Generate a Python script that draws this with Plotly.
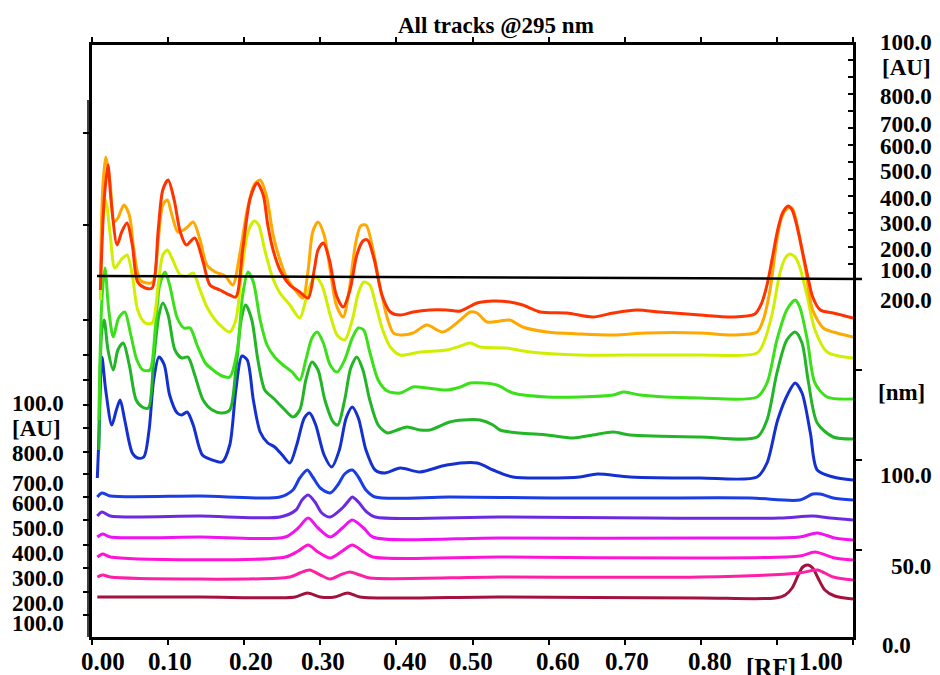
import plotly.graph_objects as go

# ---------------- data (Rf vs. absorbance, tracks stacked) ----------------
red_rf = [0.011,0.016,0.021,0.025,0.033,0.039,0.046,0.053,0.060,0.070,0.079,0.087,0.093,0.100,0.108,0.116,0.124,0.135,0.146,0.155,0.168,0.181,0.189,0.198,0.208,0.217,0.225,0.231,0.238,0.247,0.260,0.273,0.284,0.292,0.297,0.304,0.312,0.321,0.330,0.339,0.348,0.356,0.362,0.371,0.381,0.392,0.405,0.422,0.444,0.466,0.484,0.506,0.527,0.549,0.566,0.589,0.624,0.658,0.685,0.716,0.746,0.799,0.842,0.871,0.880,0.887,0.894,0.901,0.908,0.915,0.920,0.926,0.934,0.941,0.947,0.957,0.974,1.000]
red_au = [347,437,472,437,392,405,414,392,355,349,349,407,447,457,437,405,392,399,375,352,347,342,340,387,439,454,442,412,387,367,352,345,339,367,387,394,377,342,330,347,382,396,397,377,342,325,322,325,327,327,326,334,336,335,332,325,324,320,324,327,325,322,320,323,334,352,379,407,425,431,427,412,384,359,340,327,324,319]

orange_rf = [0.011,0.014,0.018,0.024,0.029,0.034,0.042,0.049,0.055,0.063,0.072,0.080,0.087,0.093,0.099,0.105,0.113,0.124,0.133,0.142,0.151,0.162,0.175,0.185,0.194,0.204,0.213,0.221,0.229,0.238,0.247,0.256,0.267,0.277,0.284,0.290,0.297,0.305,0.313,0.321,0.330,0.338,0.346,0.353,0.360,0.368,0.378,0.388,0.396,0.405,0.422,0.440,0.461,0.484,0.497,0.506,0.519,0.536,0.549,0.566,0.598,0.641,0.685,0.729,0.799,0.842,0.874,0.882,0.891,0.900,0.906,0.913,0.920,0.926,0.937,0.947,0.961,0.974,1.000]
orange_au = [352,447,480,452,415,419,432,422,387,357,354,355,397,432,437,422,405,409,415,397,372,365,361,352,382,427,452,457,442,402,377,359,347,339,367,405,415,402,367,332,320,347,392,411,412,392,352,319,304,302,304,312,305,317,325,324,315,316,317,310,305,303,302,304,304,302,305,317,347,397,419,428,429,414,370,327,309,305,300]

yellow_rf = [0.011,0.014,0.018,0.024,0.030,0.038,0.046,0.053,0.060,0.070,0.079,0.087,0.093,0.099,0.105,0.116,0.125,0.133,0.142,0.151,0.162,0.171,0.181,0.189,0.197,0.205,0.213,0.219,0.227,0.237,0.247,0.260,0.273,0.281,0.288,0.294,0.302,0.313,0.322,0.332,0.342,0.350,0.357,0.365,0.373,0.382,0.392,0.405,0.431,0.466,0.484,0.497,0.510,0.545,0.576,0.641,0.729,0.799,0.874,0.884,0.894,0.904,0.911,0.917,0.924,0.930,0.940,0.950,0.966,1.000]
yellow_au = [337,417,437,402,369,377,382,362,327,314,314,352,382,387,379,362,361,364,347,330,317,310,305,317,367,405,416,412,387,360,344,332,319,337,354,360,352,322,302,297,317,344,355,352,332,307,290,282,285,287,291,294,290,289,285,282,282,282,284,297,324,364,379,383,380,370,340,307,285,279]

green1_rf = [0.009,0.013,0.017,0.022,0.028,0.035,0.043,0.051,0.059,0.067,0.076,0.083,0.089,0.096,0.102,0.112,0.121,0.129,0.138,0.149,0.159,0.171,0.181,0.191,0.198,0.205,0.212,0.221,0.230,0.240,0.251,0.263,0.273,0.281,0.289,0.296,0.304,0.313,0.322,0.332,0.342,0.350,0.357,0.365,0.376,0.388,0.405,0.422,0.440,0.466,0.484,0.497,0.532,0.553,0.598,0.641,0.685,0.698,0.720,0.799,0.874,0.887,0.900,0.913,0.924,0.930,0.940,0.950,0.966,1.000]
green1_au = [217,337,369,327,300,319,325,302,277,267,267,307,352,365,352,319,309,309,292,274,267,261,260,287,342,365,355,317,292,280,272,265,257,277,299,305,294,272,265,277,299,309,307,285,257,246,244,250,249,247,250,254,252,244,240,240,242,245,242,239,240,254,297,327,337,330,297,254,240,238]

green2_rf = [0.009,0.013,0.016,0.021,0.028,0.034,0.041,0.049,0.058,0.066,0.074,0.081,0.088,0.093,0.100,0.109,0.118,0.126,0.135,0.146,0.158,0.171,0.181,0.189,0.196,0.202,0.210,0.218,0.227,0.238,0.251,0.264,0.273,0.281,0.289,0.297,0.306,0.317,0.323,0.332,0.340,0.348,0.356,0.365,0.376,0.388,0.401,0.414,0.431,0.444,0.470,0.488,0.510,0.527,0.536,0.562,0.598,0.632,0.658,0.685,0.707,0.799,0.874,0.887,0.900,0.913,0.924,0.933,0.941,0.953,0.974,1.000]
green2_au = [187,307,317,287,267,287,294,272,237,230,229,277,322,334,322,287,279,280,262,237,227,224,227,267,317,332,317,277,247,239,229,220,227,257,275,267,237,215,212,237,269,280,267,237,212,204,207,210,207,207,215,217,217,212,207,204,202,199,202,205,202,200,200,217,264,297,305,294,257,214,200,198]

blue1_rf = [0.007,0.009,0.013,0.018,0.026,0.032,0.037,0.043,0.053,0.060,0.068,0.075,0.081,0.088,0.095,0.102,0.112,0.118,0.125,0.133,0.145,0.158,0.171,0.181,0.189,0.197,0.204,0.212,0.221,0.231,0.240,0.250,0.260,0.269,0.279,0.286,0.294,0.305,0.315,0.325,0.334,0.342,0.350,0.360,0.372,0.385,0.405,0.431,0.466,0.506,0.527,0.553,0.598,0.641,0.664,0.707,0.799,0.874,0.887,0.901,0.915,0.924,0.933,0.944,0.953,0.974,1.000]
blue1_au = [159,197,280,247,212,227,237,217,184,179,180,207,257,280,272,242,224,222,225,212,182,177,175,192,247,281,277,237,205,194,190,182,174,192,219,224,212,182,170,187,219,230,219,187,167,164,169,165,172,174,167,160,159,160,163,160,159,160,174,217,244,254,244,204,167,160,157]

blue2_rf = [0.007,0.013,0.024,0.142,0.247,0.264,0.273,0.283,0.290,0.300,0.313,0.323,0.332,0.342,0.350,0.360,0.372,0.470,0.602,0.733,0.865,0.930,0.947,0.957,0.974,1.000]
blue2_au = [140,144,141,141,140,147,159,167,160,149,144,152,163,167,160,147,140,140,139,139,139,137,143,143,139,137]

violet_rf = [0.007,0.013,0.024,0.142,0.247,0.268,0.276,0.284,0.293,0.302,0.313,0.329,0.338,0.342,0.350,0.361,0.372,0.536,0.733,0.904,0.947,0.970,1.000]
violet_au = [121,125,121,121,120,127,137,142,135,124,120,129,137,140,135,125,120,120,119,119,121,119,117]

magenta1_rf = [0.007,0.014,0.024,0.142,0.254,0.271,0.284,0.297,0.313,0.329,0.342,0.357,0.369,0.536,0.799,0.930,0.953,0.976,1.000]
magenta1_au = [100,103,100,100,100,109,119,109,100,109,117,109,100,99,99,100,104,99,97]

magenta2_rf = [0.007,0.014,0.024,0.254,0.271,0.284,0.297,0.313,0.329,0.342,0.357,0.369,0.536,0.799,0.930,0.950,0.976,1.000]
magenta2_au = [80,83,80,80,86,92,85,79,86,92,85,80,80,79,81,85,79,77]

pink_rf = [0.007,0.014,0.024,0.260,0.273,0.286,0.300,0.313,0.329,0.339,0.352,0.365,0.536,0.799,0.930,0.953,0.974,1.000]
pink_au = [60,62,60,60,64,67,62,58,63,65,62,59,60,60,64,67,60,57]

darkred_rf = [0.007,0.142,0.267,0.283,0.300,0.319,0.336,0.352,0.536,0.799,0.898,0.911,0.920,0.928,0.934,0.941,0.947,0.954,0.963,0.976,1.000]
darkred_au = [40,40,40,44,40,40,44,40,40,39,39,42,49,62,70,72,69,59,47,41,38]

rf_ticks = [0.0,0.1,0.2,0.3,0.4,0.5,0.6,0.7,0.8,0.9,1.0]
bottom_labels = ["0.00","0.10","0.20","0.30","0.40","0.50","0.60","0.70","0.80","[RF]","1.00"]
left_labels = ["100.0","[AU]","800.0","700.0","600.0","500.0","400.0","300.0","200.0","100.0"]
right_labels = ["100.0","[AU]","800.0","700.0","600.0","500.0","400.0","300.0","200.0","100.0","200.0","[nm]","100.0","50.0","0.0"]
title_text = "All tracks @295 nm"

# ---------------- figure ----------------
W, H = 940, 675
L, R, T, B = 92, 87, 45, 38
PW, PH = W - L - R, H - T - B


def paper(px, py):
    return (px - L) / PW, (H - B - py) / PH


tracks = [
    (darkred_rf, darkred_au, "#a3123f"),
    (pink_rf, pink_au, "#ff1fa6"),
    (magenta2_rf, magenta2_au, "#ff14d6"),
    (magenta1_rf, magenta1_au, "#f012f0"),
    (violet_rf, violet_au, "#6b2ae0"),
    (blue2_rf, blue2_au, "#1a3de6"),
    (blue1_rf, blue1_au, "#1530d0"),
    (green2_rf, green2_au, "#22b525"),
    (green1_rf, green1_au, "#3ce01a"),
    (yellow_rf, yellow_au, "#d2ee00"),
    (orange_rf, orange_au, "#ffa800"),
    (red_rf, red_au, "#ff3300"),
]

fig = go.Figure()
for xs, ys, col in tracks:
    fig.add_trace(go.Scatter(x=xs, y=ys, mode="lines",
                             line=dict(color=col, width=3, shape="spline", smoothing=0.8),
                             hoverinfo="skip", showlegend=False))

# helper traces so the extra right-side tick axes are drawn
fig.add_trace(go.Scatter(x=[0.5], y=[0], yaxis="y2", mode="markers",
                         marker=dict(opacity=0), hoverinfo="skip", showlegend=False))
fig.add_trace(go.Scatter(x=[0.5], y=[0], yaxis="y3", mode="markers",
                         marker=dict(opacity=0), hoverinfo="skip", showlegend=False))

left_tick_px = [615, 592, 568, 545, 520, 497, 474, 452, 428, 405, 380, 355, 320, 225, 133]
right_top_tick_px = [60, 77, 94, 111, 128, 145, 162, 179, 196, 213, 230, 247, 264]
right_bot_tick_px = [370, 460, 550]

fig.update_layout(
    width=W, height=H,
    margin=dict(l=L, r=R, t=T, b=B, pad=0),
    plot_bgcolor="white", paper_bgcolor="white",
    showlegend=False,
    xaxis=dict(range=[0, 1], showline=True, linecolor="black", linewidth=2.5,
               mirror="ticks", ticks="outside", tickvals=rf_ticks, ticklen=5,
               tickwidth=2, tickcolor="black", showticklabels=False,
               showgrid=False, zeroline=False),
    yaxis=dict(range=[0, PH], showline=True, linecolor="black", linewidth=3,
               mirror=True, ticks="outside", tickvals=[H - B - p for p in left_tick_px],
               ticklen=6, tickwidth=2, tickcolor="black", showticklabels=False,
               showgrid=False, zeroline=False),
    yaxis2=dict(range=[0, PH], overlaying="y", side="right", showline=False,
                ticks="inside", tickvals=[H - B - p for p in right_top_tick_px],
                ticklen=5, tickwidth=2, tickcolor="black", showticklabels=False,
                showgrid=False, zeroline=False),
    yaxis3=dict(range=[0, PH], overlaying="y", side="right", showline=False,
                ticks="outside", tickvals=[H - B - p for p in right_bot_tick_px],
                ticklen=8, tickwidth=2, tickcolor="black", showticklabels=False,
                showgrid=False, zeroline=False),
)

# horizontal reference line crossing the upper tracks
x0, y0 = paper(97, 276)
x1, y1 = paper(862, 279)
fig.add_shape(type="line", xref="paper", yref="paper", x0=x0, y0=y0, x1=x1, y1=y1,
              line=dict(color="black", width=2.5), layer="above")
# thin double stroke at the left border
a0, b0 = paper(88, 100)
a1, b1 = paper(88, 637)
fig.add_shape(type="line", xref="paper", yref="paper", x0=a0, y0=b0, x1=a1, y1=b1,
              line=dict(color="black", width=1.5), layer="above")

FONT = "Liberation Serif, Times New Roman, serif"


def label(text, px, py, anchor="left", size=23):
    xp, yp = paper(px, py)
    fig.add_annotation(text="<b>" + text + "</b>", x=xp, y=yp, xref="paper", yref="paper",
                       xanchor=anchor, yanchor="middle", showarrow=False,
                       font=dict(family=FONT, size=size, color="black"))


label(title_text, 496, 26, anchor="center", size=23)

bottom_px = [103, 170, 251, 323, 405, 471, 558, 627, 710, 771, 821]
for t, px in zip(bottom_labels, bottom_px):
    label(t, px, 667 if t == "[RF]" else 661, anchor="center", size=25)

left_py = [403, 428, 453, 483, 503, 528, 553, 578, 603, 623]
for t, py in zip(left_labels, left_py):
    label(t, 10, py)

right_py = [42, 68, 96, 124, 146, 172, 198, 223, 249, 270, 300, 392, 475, 566, 645]
right_px = [878, 880, 878, 878, 878, 878, 878, 878, 878, 878, 878, 876, 878, 889, 880]
for t, px, py in zip(right_labels, right_px, right_py):
    label(t, px, py)

fig.write_html("out.html")
